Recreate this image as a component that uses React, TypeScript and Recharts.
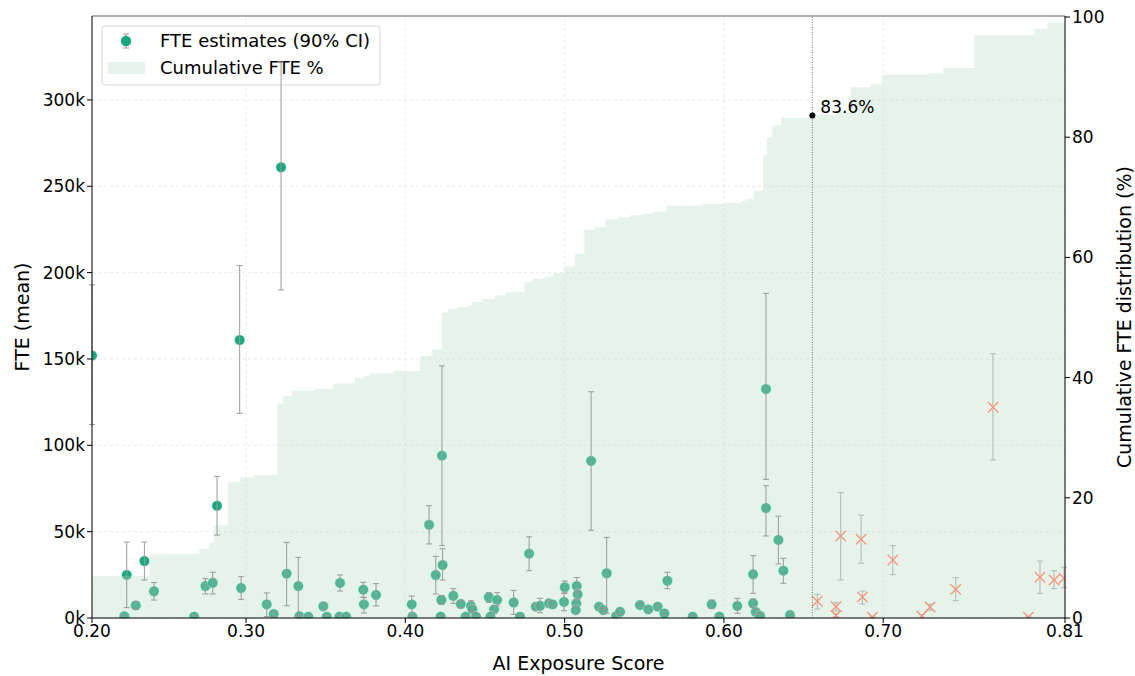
import React from 'react';
import {
  ComposedChart,
  XAxis,
  YAxis,
  CartesianGrid,
  Scatter,
  ErrorBar,
  Area,
  ReferenceLine,
  ReferenceDot,
} from 'recharts';

// ---------- axis limits & ticks ----------
const X_MIN = 0.2033;
const X_MAX = 0.8141;
const xTicks = [X_MIN, 0.3, 0.4, 0.5, 0.6, 0.7, X_MAX];
const FTE_MAX = 348.6; // thousands
const fteTicks = [0, 50, 100, 150, 200, 250, 300];
const PCT_MAX = 100.17;
const pctTicks = [0, 20, 40, 60, 80, 100];
const THRESHOLD = 0.6555;
const THRESHOLD_PCT = 83.6;

// ---------- cumulative FTE % (step outline) ----------
const stepX = [0.2033, 0.2393, 0.2707, 0.277, 0.2801, 0.2887, 0.2962, 0.3046, 0.3196, 0.3234, 0.3289, 0.3433, 0.3548, 0.3684, 0.3741, 0.3778, 0.3929, 0.4092, 0.417, 0.4229, 0.427, 0.4326, 0.4395, 0.4417, 0.4483, 0.4563, 0.4628, 0.4747, 0.4797, 0.4873, 0.4929, 0.4998, 0.5065, 0.5124, 0.5191, 0.5254, 0.5337, 0.5411, 0.5494, 0.5557, 0.5637, 0.5867, 0.6001, 0.6112, 0.6139, 0.6185, 0.6247, 0.6269, 0.6304, 0.6358, 0.6555, 0.6708, 0.6796, 0.6922, 0.6994, 0.7273, 0.7377, 0.7572, 0.7947, 0.803, 0.8141];
const stepPct = [7.0, 10.6, 11.5, 12.5, 15.4, 22.6, 23.4, 23.8, 35.7, 36.9, 37.8, 38.1, 39.0, 39.9, 40.3, 40.7, 41.1, 43.6, 44.7, 50.8, 51.4, 51.7, 52.0, 52.6, 53.1, 53.7, 54.2, 55.9, 56.4, 56.8, 57.4, 58.5, 60.6, 64.6, 65.0, 66.3, 66.7, 67.0, 67.3, 67.6, 68.6, 68.9, 69.1, 69.4, 69.7, 71.1, 77.0, 79.9, 82.0, 83.2, 83.7, 84.2, 88.3, 88.8, 90.4, 90.6, 91.5, 97.0, 98.0, 99.1, 99.1];

// ---------- FTE estimates below threshold (thousands) ----------
const greenX = [0.2033, 0.2251, 0.2236, 0.2308, 0.2362, 0.2422, 0.2674, 0.2745, 0.2791, 0.2818, 0.296, 0.2969, 0.313, 0.3174, 0.322, 0.3255, 0.3328, 0.3335, 0.3391, 0.3485, 0.3507, 0.359, 0.3586, 0.3628, 0.3736, 0.374, 0.3816, 0.404, 0.4044, 0.4149, 0.4191, 0.4234, 0.423, 0.4226, 0.4222, 0.4301, 0.4348, 0.4412, 0.4379, 0.4421, 0.4444, 0.4524, 0.4576, 0.4557, 0.4534, 0.468, 0.472, 0.4777, 0.4819, 0.4846, 0.4902, 0.4925, 0.4996, 0.5001, 0.5076, 0.5082, 0.5073, 0.507, 0.5166, 0.5216, 0.5243, 0.5264, 0.5323, 0.5348, 0.5473, 0.5525, 0.5584, 0.5626, 0.5645, 0.5804, 0.5923, 0.5971, 0.6084, 0.6183, 0.6183, 0.62, 0.6227, 0.6264, 0.6264, 0.6342, 0.6373, 0.6415];
const greenFte = [152, 25, 1, 7.3, 33, 15.5, 0.8, 18.5, 20.4, 65, 161, 17.4, 7.9, 2.3, 261, 25.7, 18.5, 1, 0.8, 6.8, 0.8, 20.3, 0.8, 0.8, 16.4, 7.9, 13.3, 7.9, 0.8, 54, 24.9, 30.7, 94, 10.4, 0.8, 12.9, 8.1, 7, 0.8, 5, 0.8, 12, 10.4, 5, 0.8, 9, 0.8, 37.3, 6.6, 7.1, 8.5, 7.9, 9.3, 17.8, 18.5, 13.7, 8.5, 4.6, 91, 6.6, 4.6, 25.9, 1.2, 3.6, 7.5, 5, 6.6, 2.7, 21.6, 0.8, 7.9, 0.8, 7, 25.3, 8.5, 3.5, 1.2, 132.6, 63.7, 45.2, 27.4, 1.7];
const greenLo = [112, 6, 0, 5, 22, 10.4, 0, 13.9, 13.9, 48, 118.5, 10.8, 0.8, 1, 190, 7.1, 0.8, 0, 0, 5, 0, 15.6, 0, 0, 12, 2.9, 7, 3, 0, 42.9, 13.9, 22, 41.9, 8, 0, 8.5, 6, 4, 0, 3, 0, 9, 7, 3, 0, 2.1, 0, 27.4, 5, 3.1, 7, 6.5, 4.2, 14.5, 14, 11, 6.5, 3, 50.8, 5, 3, 2.7, 0, 2, 6, 3.5, 5, 1.5, 17, 0, 5.5, 0, 2.7, 14.3, 6, 2, 0, 80.3, 47.5, 31.3, 20.1, 0.5];
const greenHi = [193, 44, 2, 9.5, 44, 20.5, 1.8, 22.8, 26.5, 82, 204, 23.9, 14.5, 3.5, 322, 43.8, 35.1, 2, 1.6, 8.5, 1.6, 24.9, 1.6, 1.6, 20.7, 11.8, 19.9, 12.7, 1.6, 65, 35.7, 40.1, 146, 13, 1.6, 17, 10, 10, 1.6, 7, 1.6, 14.7, 14.7, 7, 1.6, 16, 1.6, 47, 8, 11.4, 10, 9.3, 14.3, 21.4, 23.4, 16, 10.5, 6.5, 131, 8, 6, 46.7, 2.5, 5, 9, 6.5, 8, 4, 26.5, 1.6, 10.4, 1.6, 11.4, 36.1, 11, 5, 2.5, 188, 76.6, 59, 34.6, 3];

// ---------- FTE estimates above threshold (thousands) ----------
const orangeX = [0.6586, 0.6704, 0.6704, 0.6733, 0.6861, 0.6869, 0.6932, 0.706, 0.7242, 0.7294, 0.7455, 0.7689, 0.7911, 0.7984, 0.8072, 0.8135];
const orangeFte = [9.7, 6.6, 1.5, 47.5, 45.6, 12.2, 0.4, 33.6, 1.2, 6.4, 16.6, 122, 0.5, 23.6, 22, 23];
const orangeLo = [5.2, 4, 0.5, 22, 31.7, 8.1, 0, 25.1, 0.3, 4.5, 10, 91.5, 0, 14.3, 17, 17.5];
const orangeHi = [13.7, 8.9, 2.5, 72.6, 59.5, 15.6, 1, 41.9, 2, 8, 23.3, 153, 1, 33, 27.4, 29.4];

// ---------- derived tables ----------
const cumData = stepX.map((x, i) => ({ x, cum: stepPct[i] }));
const makePoints = (xs: number[], ms: number[], los: number[], his: number[]) =>
  xs.map((x, i) => ({ x, y: ms[i], err: [ms[i] - los[i], his[i] - ms[i]] }));
const greenPoints = makePoints(greenX, greenFte, greenLo, greenHi);
const orangePoints = makePoints(orangeX, orangeFte, orangeLo, orangeHi);

const GREEN = '#009E73';
const ORANGE = '#F7977A';
const ERR = '#9a9a9a';
const FONT = 'DejaVu Sans, sans-serif';

const GreenDot = (p: any) =>
  p.cx == null ? null : (
    <circle cx={p.cx} cy={p.cy} r={5.2} fill={GREEN} fillOpacity={0.9} stroke="#ffffff" strokeWidth={0.6} strokeOpacity={0.7} />
  );

const OrangeX = (p: any) => {
  if (p.cx == null) return null;
  const s = 5.2;
  return (
    <g stroke={ORANGE} strokeWidth={1.4}>
      <line x1={p.cx - s} y1={p.cy - s} x2={p.cx + s} y2={p.cy + s} />
      <line x1={p.cx - s} y1={p.cy + s} x2={p.cx + s} y2={p.cy - s} />
    </g>
  );
};

const LegendBox = () => (
  <g style={{ fontFamily: FONT }}>
    <rect x={102} y={26} width={278} height={59} rx={3} fill="#ffffff" fillOpacity={0.85} stroke="#d6d6d6" strokeWidth={1} />
    <line x1={126} y1={34} x2={126} y2={48} stroke={ERR} strokeWidth={1} />
    <line x1={123} y1={34} x2={129} y2={34} stroke={ERR} strokeWidth={1} />
    <line x1={123} y1={48} x2={129} y2={48} stroke={ERR} strokeWidth={1} />
    <circle cx={126} cy={41} r={5.2} fill={GREEN} fillOpacity={0.9} />
    <text x={160} y={47} fontSize={18} fill="#000">FTE estimates (90% CI)</text>
    <rect x={108} y={62} width={37} height={12} fill="#b4dbc0" fillOpacity={0.33} />
    <text x={160} y={74} fontSize={18} fill="#000">Cumulative FTE %</text>
  </g>
);

const tickStyle = { fill: '#000', fontSize: 17, fontFamily: FONT };

export default function App() {
  return (
    <div style={{ position: 'absolute', left: 0, top: 0, width: 1135, height: 676, background: '#fff' }}>
      <ComposedChart
        width={1135}
        height={676}
        data={cumData}
        margin={{ top: 16, right: 0, bottom: 0, left: 0 }}
        style={{ fontFamily: FONT }}
      >
        <CartesianGrid yAxisId="left" stroke="#e6e6e6" strokeDasharray="3 3" strokeWidth={0.8} />
        <XAxis
          dataKey="x"
          type="number"
          domain={[X_MIN, X_MAX]}
          allowDataOverflow
          ticks={xTicks}
          tickFormatter={(v: number) => v.toFixed(2)}
          height={58}
          tick={tickStyle}
          tickSize={5}
          stroke="#000"
          label={{ value: 'AI Exposure Score', position: 'insideBottom', offset: 6, fill: '#000', fontSize: 19, fontFamily: FONT }}
        />
        <YAxis
          yAxisId="left"
          dataKey="y"
          type="number"
          domain={[0, FTE_MAX]}
          allowDataOverflow
          ticks={fteTicks}
          tickFormatter={(v: number) => `${v}k`}
          width={92}
          tick={tickStyle}
          tickSize={5}
          stroke="#000"
          label={{ value: 'FTE (mean)', angle: -90, position: 'insideLeft', offset: 22, fill: '#000', fontSize: 19, fontFamily: FONT, style: { textAnchor: 'middle' } }}
        />
        <YAxis
          yAxisId="right"
          orientation="right"
          type="number"
          domain={[0, PCT_MAX]}
          allowDataOverflow
          ticks={pctTicks}
          width={70}
          tick={tickStyle}
          tickSize={5}
          stroke="#000"
          label={{ value: 'Cumulative FTE distribution (%)', angle: -90, position: 'insideRight', offset: 11, fill: '#000', fontSize: 19, fontFamily: FONT, style: { textAnchor: 'middle' } }}
        />
        <Scatter
          yAxisId="left"
          data={greenPoints}
          dataKey="y"
          shape={GreenDot}
          isAnimationActive={false}
          zIndex={300}
        >
          <ErrorBar dataKey="err" direction="y" width={3} stroke={ERR} strokeWidth={1} />
        </Scatter>
        <Area
          yAxisId="right"
          type="stepAfter"
          dataKey="cum"
          fill="#b4dbc0"
          fillOpacity={0.33}
          stroke="none"
          isAnimationActive={false}
          dot={false}
          activeDot={false}
          zIndex={350}
        />
        <Scatter
          yAxisId="left"
          data={orangePoints}
          dataKey="y"
          shape={OrangeX}
          isAnimationActive={false}
          zIndex={400}
        >
          <ErrorBar dataKey="err" direction="y" width={3} stroke="#b0b8b2" strokeWidth={1} />
        </Scatter>
        <ReferenceLine yAxisId="left" x={THRESHOLD} stroke="#555" strokeDasharray="1 1.5" strokeWidth={0.8} />
        <ReferenceLine yAxisId="left" y={FTE_MAX} stroke="#666" strokeWidth={1.2} />
        <ReferenceDot
          yAxisId="right"
          x={THRESHOLD}
          y={THRESHOLD_PCT}
          r={3}
          fill="#000"
          stroke="none"
          label={(props: any) => {
            const vb = props.viewBox || {};
            return (
              <text x={(vb.x ?? 0) + (vb.width ?? 0) + 5} y={(vb.y ?? 0) + 0} fontSize={17} fill="#000" style={{ fontFamily: FONT }}>
                {`${THRESHOLD_PCT}%`}
              </text>
            );
          }}
        />
        <LegendBox />
      </ComposedChart>
    </div>
  );
}
